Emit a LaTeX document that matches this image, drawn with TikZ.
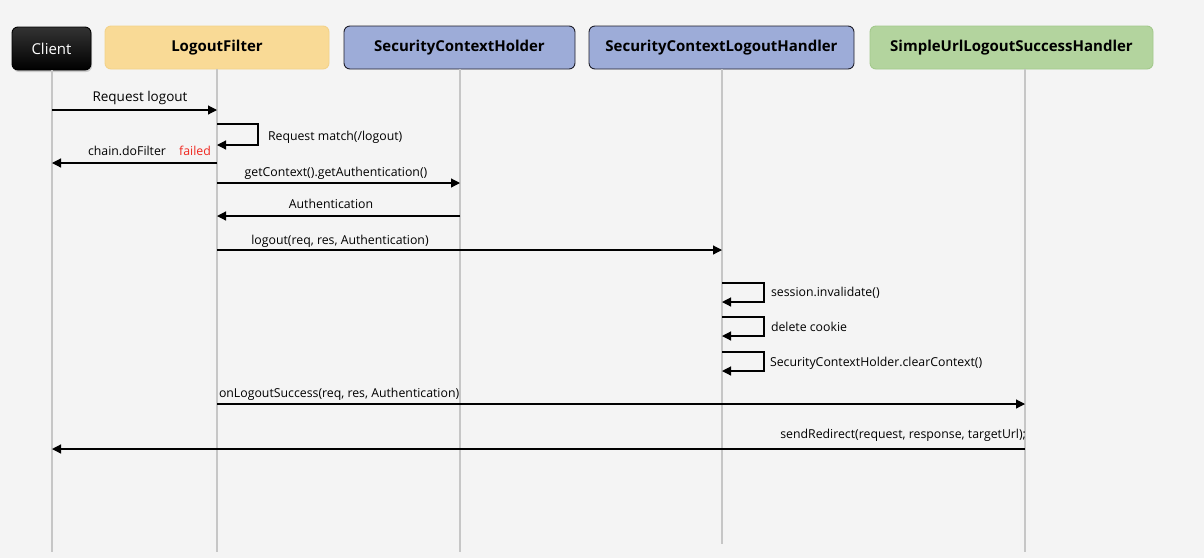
\documentclass[tikz,border=0pt]{standalone}
\usepackage{fontspec}
\setmainfont{Open Sans}
\usetikzlibrary{arrows.meta,shadows}
\definecolor{bg}{HTML}{F4F4F4}
\definecolor{lifegray}{HTML}{C6C6C6}
\definecolor{yfill}{HTML}{F9DA96}
\definecolor{ydraw}{HTML}{F3D28A}
\definecolor{bfill}{HTML}{9DACD8}
\definecolor{bdraw}{HTML}{1E1E2A}
\definecolor{gfill}{HTML}{B3D49E}
\definecolor{gdraw}{HTML}{A3C98C}
\definecolor{failred}{HTML}{F0271F}
\begin{document}
\begin{tikzpicture}[x=1pt,y=-1pt,
  every node/.style={inner sep=0pt, outer sep=0pt},
  actor/.style={rounded corners=6pt, minimum height=43, font=\fontsize{15}{17}\selectfont\bfseries, line width=0.9pt},
  life/.style={draw=lifegray, line width=1.3pt},
  msg/.style={draw=black, line width=1.2pt, -{Triangle[length=9pt,width=9pt]}},
  lbl/.style={font=\fontsize{12.3}{14}\selectfont, text=black}
]
\fill[bg] (0,0) rectangle (1204,558);
\useasboundingbox (0,0) rectangle (1204,558);

% actors
\node[actor, font=\fontsize{15}{17}\selectfont\mdseries, top color=black!80, bottom color=black, text=white, draw=black, minimum width=79, drop shadow={opacity=0.35, shadow xshift=1pt, shadow yshift=-2pt}] (client) at (51.5,48.5) {Client};
\node[actor, fill=yfill, draw=ydraw, minimum width=224] (lf) at (217,47.5) {LogoutFilter};
\node[actor, fill=bfill, draw=bdraw, minimum width=231] (sch) at (459.5,47.5) {SecurityContextHolder};
\node[actor, fill=bfill, draw=bdraw, minimum width=265] (sclh) at (721.5,47.5) {SecurityContextLogoutHandler};
\node[actor, fill=gfill, draw=gdraw, minimum width=283] (sulsh) at (1011.5,47.5) {SimpleUrlLogoutSuccessHandler};

% lifeline ends
\coordinate (clB) at (52,552);
\coordinate (lfB) at (217,552);
\coordinate (schB) at (460,552);
\coordinate (sclhB) at (722,544);
\coordinate (sulshB) at (1025,552);
\coordinate (clT) at (52,70);
\coordinate (lfT) at (217,69);
\coordinate (schT) at (460,69);
\coordinate (sclhT) at (722,69);
\coordinate (sulshT) at (1025,69);

\draw[life] (clT) -- (clB);
\draw[life] (lfT) -- (lfB);
\draw[life] (schT) -- (schB);
\draw[life] (sclhT) -- (sclhB);
\draw[life] (sulshT) -- (sulshB);

% messages
\draw[msg] (clT |- 0,110) -- (lfT |- 0,110);
\node[lbl, anchor=base] (m1) at (140,101) {\fontsize{13.5}{15}\selectfont Request logout};

\draw[msg] (lfT |- 0,124) -- (258,124) -- (258,145) -- (lfT |- 0,145);
\node[lbl, anchor=base west] (m2) at (268,140) {Request match(/logout)};

\draw[msg] (lfT |- 0,163) -- (clT |- 0,163);
\node[lbl, anchor=base] (m3) at (127,155) {chain.doFilter};
\node[lbl, anchor=base, text=failred] (m3b) at (195,155) {failed};

\draw[msg] (lfT |- 0,183) -- (schT |- 0,183);
\node[lbl, anchor=base] (m4) at (336,176) {getContext().getAuthentication()};

\draw[msg] (schT |- 0,216) -- (lfT |- 0,216);
\node[lbl, anchor=base] (m5) at (331,208) {Authentication};

\draw[msg] (lfT |- 0,250) -- (sclhT |- 0,250);
\node[lbl, anchor=base] (m6) at (340,244) {logout(req, res, Authentication)};

\draw[msg] (sclhT |- 0,283) -- (764,283) -- (764,302) -- (sclhT |- 0,302);
\node[lbl, anchor=base west] (m7) at (771,296) {session.invalidate()};

\draw[msg] (sclhT |- 0,317) -- (764,317) -- (764,336) -- (sclhT |- 0,336);
\node[lbl, anchor=base west] (m8) at (771,331) {delete cookie};

\draw[msg] (sclhT |- 0,352) -- (764,352) -- (764,371) -- (sclhT |- 0,371);
\node[lbl, anchor=base west] (m9) at (770,366) {SecurityContextHolder.clearContext()};

\draw[msg] (lfT |- 0,404) -- (sulshT |- 0,404);
\node[lbl, anchor=base west] (m10) at (219,397) {onLogoutSuccess(req, res, Authentication)};

\draw[msg] (sulshT |- 0,449) -- (clT |- 0,449);
\node[lbl, anchor=base east] (m11) at (1026,438) {sendRedirect(request, response, targetUrl);};
\end{tikzpicture}
\end{document}
